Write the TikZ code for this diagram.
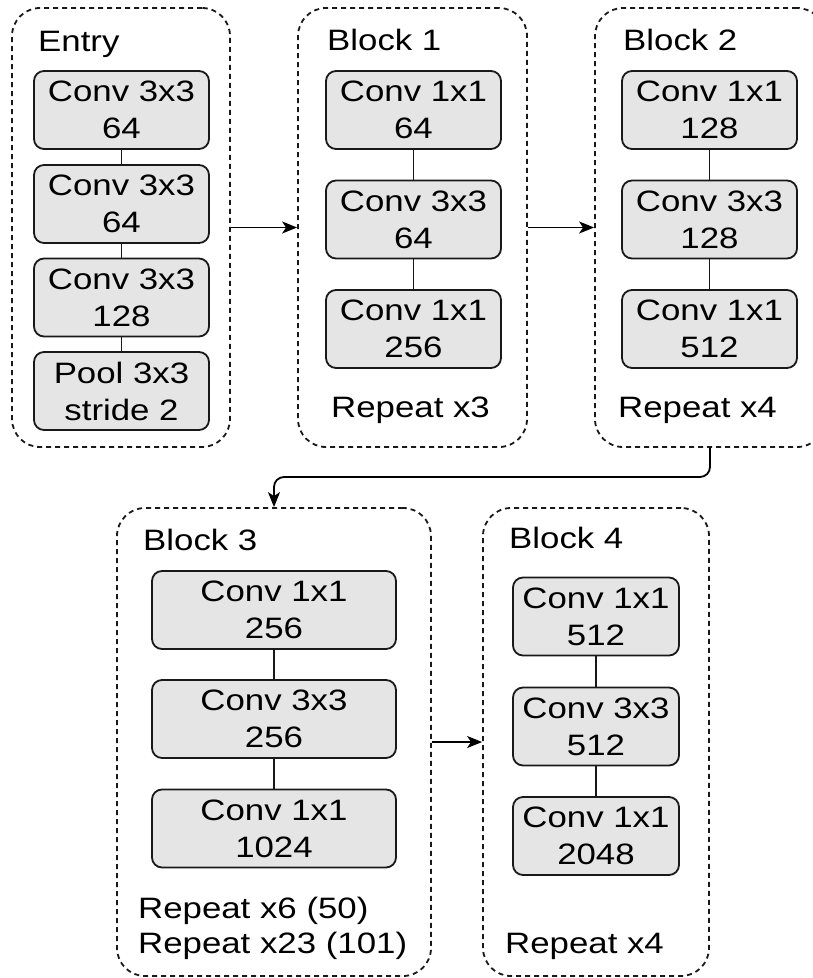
\documentclass[tikz,border=0pt]{standalone}
\usepackage{fontspec}
\setmainfont{Liberation Sans}[FakeStretch=1.18]
\usetikzlibrary{arrows.meta}

\begin{document}
\begin{tikzpicture}[x=1pt,y=-1pt,
  every node/.style={font=\fontsize{29.5}{37}\selectfont, text=black},
  group/.style={draw=black!90, dash pattern=on 5pt off 4pt, line width=1.8pt,
    rounded corners=28pt, inner sep=0pt},
  layer/.style={draw=black!90, fill=black!10, line width=1.8pt, rounded corners=10pt,
    align=center, inner sep=0pt, minimum height=78pt},
  link/.style={draw=black!90, line width=1.5pt},
  flow/.style={draw=black, line width=1.8pt, -{Stealth[length=15pt,width=12pt,inset=4pt]}},
  title/.style={anchor=base west, inner sep=0pt}]

\useasboundingbox (0,0) rectangle (813,978);
\clip (0,0) rectangle (813,978);

% stage frames
\node[group, minimum width=218pt, minimum height=439pt] (entry) at (121,227.5) {};
\node[group, minimum width=229pt, minimum height=439pt] (b1) at (412.5,227.5) {};
\node[group, minimum width=230pt, minimum height=439pt] (b2) at (710,227.5) {};
\node[group, minimum width=314pt, minimum height=468pt] (b3) at (274,742) {};
\node[group, minimum width=226pt, minimum height=468pt] (b4) at (596,742) {};

% stage titles and repeat counts
\node[title] (tentry) at (38,51) {Entry};
\node[title] (tb1) at (327,50) {Block 1};
\node[title] (tb2) at (623,50) {Block 2};
\node[title] (tb3) at (143,550) {Block 3};
\node[title] (tb4) at (509,548) {Block 4};
\node[title] (rb1) at (331,417) {Repeat x3};
\node[title] (rb2) at (618,417) {Repeat x4};
\node[title] (rb3a) at (138,918) {Repeat x6 (50)};
\node[title] (rb3b) at (138,953) {Repeat x23 (101)};
\node[title] (rb4) at (505,953) {Repeat x4};

% entry layers
\node[layer, minimum width=175pt] (e1) at (121.5,110) {Conv 3x3\\64};
\node[layer, minimum width=175pt] (e2) at (121.5,204) {Conv 3x3\\64};
\node[layer, minimum width=175pt] (e3) at (121.5,297.5) {Conv 3x3\\128};
\node[layer, minimum width=175pt] (e4) at (121.5,391) {Pool 3x3\\stride 2};

% block 1 layers
\node[layer, minimum width=175pt] (a1) at (413.5,110) {Conv 1x1\\64};
\node[layer, minimum width=175pt] (a2) at (413.5,219.5) {Conv 3x3\\64};
\node[layer, minimum width=175pt] (a3) at (413.5,329) {Conv 1x1\\256};

% block 2 layers
\node[layer, minimum width=175pt] (c1) at (709.5,110) {Conv 1x1\\128};
\node[layer, minimum width=175pt] (c2) at (709.5,219.5) {Conv 3x3\\128};
\node[layer, minimum width=175pt] (c3) at (709.5,329) {Conv 1x1\\512};

% block 3 layers
\node[layer, minimum width=244pt] (d1) at (274,610) {Conv 1x1\\256};
\node[layer, minimum width=244pt] (d2) at (274,719) {Conv 3x3\\256};
\node[layer, minimum width=244pt] (d3) at (274,828.5) {Conv 1x1\\1024};

% block 4 layers
\node[layer, minimum width=166pt] (f1) at (596,616.5) {Conv 1x1\\512};
\node[layer, minimum width=166pt] (f2) at (596,726.5) {Conv 3x3\\512};
\node[layer, minimum width=166pt] (f3) at (596,836) {Conv 1x1\\2048};

% links inside each stage
\draw[link] (e1) -- (e2);
\draw[link] (e2) -- (e3);
\draw[link] (e3) -- (e4);
\draw[link] (a1) -- (a2);
\draw[link] (a2) -- (a3);
\draw[link] (c1) -- (c2);
\draw[link] (c2) -- (c3);
\draw[link] (d1) -- (d2);
\draw[link] (d2) -- (d3);
\draw[link] (f1) -- (f2);
\draw[link] (f2) -- (f3);

% flow between stages
\draw[flow] (entry.east) -- (b1.west);
\draw[flow] (b1.east) -- (b2.west);
\coordinate (bend) at (274,477);
\draw[flow, rounded corners=10pt] (b2.south) |- (bend) -- (b3.north);
\draw[flow] (b3.east) -- (b4.west);
\end{tikzpicture}
\end{document}
